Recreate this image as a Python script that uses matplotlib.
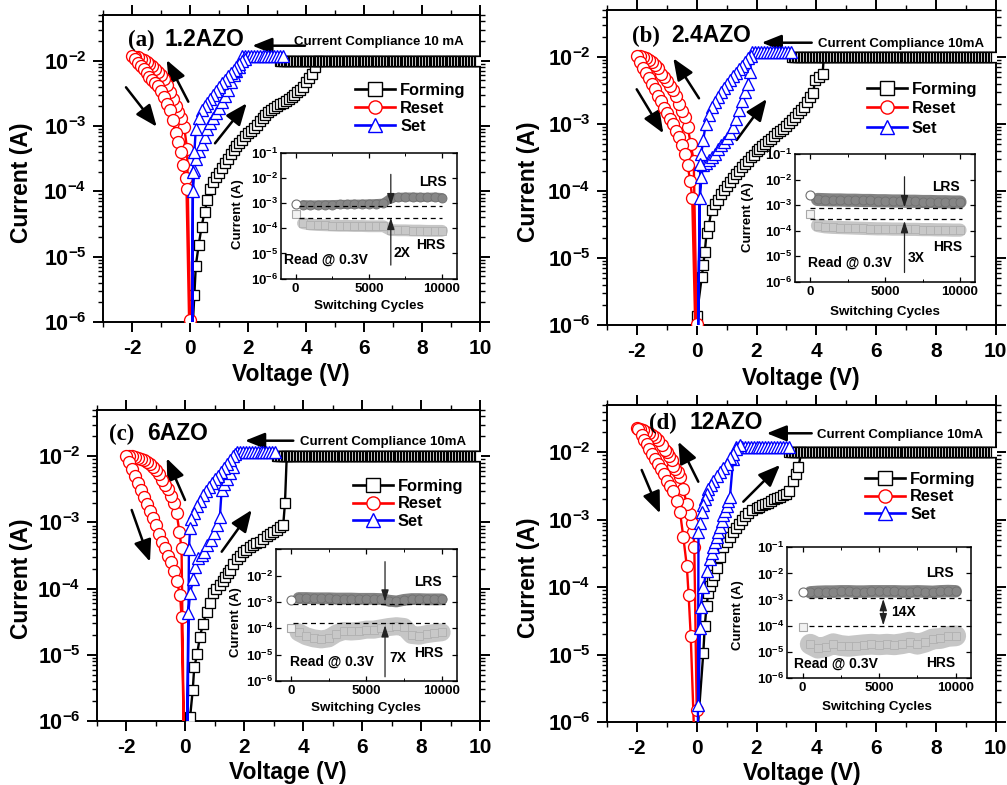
import numpy as np
import matplotlib
matplotlib.use('Agg')
import matplotlib.pyplot as plt
from matplotlib.lines import Line2D
from matplotlib.ticker import FixedLocator, MultipleLocator, LogLocator, NullFormatter

W, H = 1007, 785
plt.rcParams['font.family'] = ['Liberation Sans', 'DejaVu Sans']
plt.rcParams['font.weight'] = 'bold'
plt.rcParams['mathtext.fontset'] = 'custom'
plt.rcParams['mathtext.rm'] = 'Liberation Sans:bold'
plt.rcParams['mathtext.bf'] = 'Liberation Sans:bold'
plt.rcParams['mathtext.it'] = 'Liberation Sans:bold'
plt.rcParams['axes.unicode_minus'] = False

# ----------------------------------------------------------------- data
# currents are stored as log10(I / A)
SERIES_NAMES = ['Forming', 'Reset', 'Set']
PANEL_TAGS = ['(a)', '(b)', '(c)', '(d)']
PANEL_NAMES = ['1.2AZO', '2.4AZO', '6AZO', '12AZO']
COMPLIANCE_TEXT = ['Current Compliance 10 mA', 'Current Compliance 10mA',
                   'Current Compliance 10mA', 'Current Compliance 10mA']
RATIO_TEXT = ['2X', '3X', '7X', '14X']
FORM_COMPLIANCE_LOGI = -2.00
SET_COMPLIANCE_LOGI = -1.93
V_TICKS = [-2, 0, 2, 4, 6, 8, 10]
I_TICKS = [1e-6, 1e-5, 1e-4, 1e-3, 1e-2]
INSET_I_TICKS = [1e-6, 1e-5, 1e-4, 1e-3, 1e-2, 1e-1]
INSET_CYCLE_TICKS = [0, 5000, 10000]

# ---- (a) 1.2AZO
A_FORM_V = [0.10, 0.15, 0.20, 0.30, 0.40, 0.50, 0.60, 0.70, 0.80, 0.90, 1.00, 1.10, 1.20, 1.30, 1.40,
            1.50, 1.60, 1.70, 1.80, 1.90, 2.00, 2.10, 2.20, 2.30, 2.40, 2.50, 2.60, 2.70, 2.80, 2.90,
            3.00, 3.10, 3.20, 3.30, 3.40, 3.50, 3.60, 3.70, 3.80, 3.90, 4.00, 4.10, 4.20, 4.30, 4.40]
A_FORM_LOGI = [-6.00, -5.59, -5.14, -4.82, -4.54, -4.32, -4.13, -3.97, -3.85, -3.78, -3.72, -3.64, -3.57, -3.50, -3.43,
               -3.37, -3.31, -3.26, -3.21, -3.16, -3.11, -3.07, -3.03, -2.98, -2.93, -2.88, -2.83, -2.79, -2.76, -2.73,
               -2.70, -2.67, -2.64, -2.61, -2.58, -2.55, -2.52, -2.48, -2.45, -2.40, -2.32, -2.26, -2.20, -2.10, -2.00]
A_FORM_PLATEAU = (3.1, 10.0)
A_RESET_V = [0.00, -0.10, -0.20, -0.30, -0.40, -0.50, -0.60, -0.70, -0.80, -0.90, -1.00, -1.10, -1.20, -1.30,
             -1.40, -1.50, -1.60, -1.70, -1.80, -1.90, -2.00,
             -1.90, -1.80, -1.70, -1.60, -1.50, -1.40, -1.30, -1.20, -1.10, -1.00, -0.90, -0.80, -0.70, -0.60,
             -0.50, -0.40, -0.30, -0.25, -0.15, -0.12, -0.03]
A_RESET_LOGI = [-5.97, -3.35, -3.02, -2.87, -2.78, -2.69, -2.58, -2.48, -2.37, -2.28, -2.22, -2.17, -2.12, -2.08,
                -2.05, -2.02, -1.99, -1.97, -1.95, -1.94, -1.93,
                -1.98, -2.03, -2.08, -2.13, -2.19, -2.25, -2.30, -2.34, -2.39, -2.46, -2.55, -2.66, -2.76, -2.90,
                -3.10, -3.25, -3.40, -3.60, -3.80, -3.97, -6.00]
A_SET_UP_V = [0.08, 0.10, 0.15, 0.20, 0.30, 0.40, 0.50, 0.60, 0.70, 0.80, 0.90, 1.00, 1.10, 1.20, 1.30, 1.40,
              1.50, 1.60, 1.70]
A_SET_UP_LOGI = [-6.00, -4.00, -3.67, -3.50, -3.38, -3.28, -3.17, -3.05, -2.96, -2.88, -2.80, -2.72, -2.63, -2.54,
                 -2.45, -2.33, -2.22, -2.15, -2.09]
A_SET_PLATEAU = (1.8, 3.2)
A_SET_RET_V = [1.90, 1.80, 1.70, 1.60, 1.50, 1.40, 1.30, 1.20, 1.10, 1.00, 0.90, 0.80, 0.70, 0.60, 0.50, 0.40,
               0.30, 0.20, 0.15, 0.10, 0.08]
A_SET_RET_LOGI = [-1.97, -2.01, -2.05, -2.09, -2.14, -2.19, -2.24, -2.29, -2.34, -2.40, -2.46, -2.52, -2.58, -2.65,
                  -2.70, -2.75, -2.88, -3.05, -3.40, -3.70, -6.00]

# ---- (b) 2.4AZO
B_FORM_V = [0.00, 0.17, 0.22, 0.27, 0.33, 0.40, 0.50, 0.60, 0.70, 0.80, 0.90, 1.00, 1.10, 1.20, 1.30, 1.40,
            1.50, 1.60, 1.70, 1.80, 1.90, 2.00, 2.10, 2.20, 2.30, 2.40, 2.50, 2.60, 2.70, 2.80, 2.90, 3.00,
            3.10, 3.20, 3.30, 3.40, 3.50, 3.60, 3.70, 3.80, 3.90, 3.95, 4.10, 4.21, 4.25]
B_FORM_LOGI = [-5.87, -5.28, -5.10, -4.91, -4.63, -4.52, -4.28, -4.20, -4.13, -4.05, -3.99, -3.92, -3.86, -3.80,
               -3.75, -3.70, -3.64, -3.60, -3.55, -3.50, -3.46, -3.41, -3.37, -3.33, -3.30, -3.26, -3.22, -3.18,
               -3.14, -3.11, -3.07, -3.03, -2.99, -2.94, -2.89, -2.84, -2.79, -2.74, -2.67, -2.60, -2.54, -2.35,
               -2.30, -2.26, -2.00]
B_FORM_PLATEAU = (3.2, 10.0)
B_RESET_V = [0.00, -0.10, -0.20, -0.30, -0.40, -0.50, -0.60, -0.70, -0.80, -0.90, -1.00, -1.10, -1.20, -1.30,
             -1.40, -1.50, -1.60, -1.70, -1.80, -1.90, -2.00,
             -1.90, -1.80, -1.70, -1.60, -1.50, -1.40, -1.30, -1.20, -1.10, -1.00, -0.90, -0.80, -0.70, -0.60,
             -0.50, -0.40, -0.30, -0.22, -0.15, -0.05]
B_RESET_LOGI = [-5.98, -3.55, -3.30, -3.05, -2.90, -2.80, -2.70, -2.59, -2.50, -2.43, -2.36, -2.30, -2.25, -2.17,
                -2.12, -2.08, -2.05, -2.02, -2.00, -1.98, -1.98,
                -2.08, -2.17, -2.24, -2.31, -2.40, -2.48, -2.58, -2.66, -2.76, -2.84, -2.92, -3.00, -3.10, -3.20,
                -3.31, -3.45, -3.62, -3.85, -4.10, -6.00]
B_SET_UP_V = [0.05, 0.10, 0.16, 0.21, 0.30, 0.40, 0.50, 0.60, 0.70, 0.80, 0.90, 1.00, 1.10, 1.20, 1.30, 1.40,
              1.50, 1.60, 1.70, 1.78]
B_SET_UP_LOGI = [-6.00, -4.11, -3.79, -3.62, -3.58, -3.54, -3.50, -3.45, -3.38, -3.32, -3.27, -3.21, -3.14, -3.05,
                 -2.93, -2.79, -2.66, -2.52, -2.40, -2.22]
B_SET_PLATEAU = (1.85, 3.2)
B_SET_RET_V = [1.80, 1.70, 1.60, 1.50, 1.40, 1.30, 1.20, 1.10, 1.00, 0.90, 0.80, 0.70, 0.60, 0.50, 0.40, 0.30,
               0.22, 0.15, 0.12, 0.05]
B_SET_RET_LOGI = [-1.98, -2.02, -2.07, -2.13, -2.18, -2.24, -2.29, -2.34, -2.40, -2.46, -2.53, -2.60, -2.67, -2.75,
                  -2.87, -3.00, -3.24, -3.45, -3.60, -6.00]

# ---- (c) 6AZO
C_FORM_V = [0.16, 0.25, 0.30, 0.40, 0.49, 0.60, 0.72, 0.84, 0.95, 1.05, 1.17, 1.26, 1.35, 1.44, 1.52, 1.63,
            1.75, 1.85, 1.95, 2.05, 2.19, 2.30, 2.40, 2.53, 2.65, 2.76, 2.87, 2.98, 3.10, 3.20, 3.32, 3.38, 3.44]
C_FORM_LOGI = [-5.94, -5.53, -5.19, -4.99, -4.73, -4.53, -4.35, -4.22, -4.07, -4.00, -3.95, -3.88, -3.82, -3.77,
               -3.72, -3.62, -3.55, -3.50, -3.45, -3.41, -3.37, -3.34, -3.31, -3.29, -3.25, -3.21, -3.18, -3.14,
               -3.11, -3.07, -3.04, -2.71, -2.00]
C_FORM_PLATEAU = (3.1, 10.0)
C_RESET_V = [-0.06, -0.13, -0.20, -0.30, -0.40, -0.50, -0.60, -0.70, -0.80, -0.90, -1.00, -1.10, -1.20, -1.30,
             -1.40, -1.50, -1.60, -1.70, -1.80, -1.90, -2.00,
             -1.90, -1.80, -1.70, -1.60, -1.50, -1.40, -1.30, -1.20, -1.10, -1.00, -0.90, -0.80, -0.70, -0.60,
             -0.50, -0.40, -0.30, -0.18, -0.13, -0.06]
C_RESET_LOGI = [-6.00, -3.39, -3.15, -2.85, -2.70, -2.60, -2.50, -2.43, -2.36, -2.27, -2.21, -2.16, -2.12, -2.09,
                -2.06, -2.04, -2.02, -2.01, -2.00, -2.00, -2.00,
                -2.09, -2.19, -2.30, -2.41, -2.51, -2.61, -2.72, -2.82, -2.93, -3.04, -3.17, -3.29, -3.38, -3.50,
                -3.60, -3.73, -3.88, -4.09, -4.43, -6.00]
C_SET_UP_V = [0.06, 0.10, 0.16, 0.27, 0.33, 0.44, 0.55, 0.63, 0.75, 0.86, 0.97, 1.08, 1.17, 1.23, 1.30, 1.40,
              1.50, 1.63]
C_SET_UP_LOGI = [-6.00, -4.37, -4.07, -3.85, -3.67, -3.54, -3.49, -3.44, -3.34, -3.26, -3.16, -3.04, -2.92, -2.51,
                 -2.42, -2.34, -2.25, -2.16]
C_SET_PLATEAU = (1.75, 3.1)
C_SET_RET_V = [1.70, 1.60, 1.50, 1.40, 1.30, 1.20, 1.10, 1.00, 0.90, 0.80, 0.70, 0.60, 0.50, 0.40, 0.30, 0.20,
               0.16, 0.12, 0.08]
C_SET_RET_LOGI = [-1.96, -2.00, -2.06, -2.12, -2.17, -2.23, -2.29, -2.35, -2.41, -2.47, -2.53, -2.59, -2.67, -2.75,
                  -2.85, -2.94, -3.09, -3.40, -6.00]

# ---- (d) 12AZO
D_FORM_V = [0.05, 0.22, 0.27, 0.33, 0.39, 0.45, 0.50, 0.58, 0.67, 0.78, 0.89, 1.00, 1.10, 1.20, 1.30, 1.40,
            1.50, 1.60, 1.73, 1.85, 2.00, 2.10, 2.20, 2.30, 2.40, 2.50, 2.60, 2.70, 2.80, 2.90, 3.00, 3.10,
            3.23, 3.32, 3.40, 3.50]
D_FORM_LOGI = [-6.00, -4.98, -4.58, -4.28, -4.08, -3.98, -3.91, -3.82, -3.72, -3.56, -3.41, -3.33, -3.25, -3.18,
               -3.12, -3.06, -3.00, -2.95, -2.90, -2.86, -2.83, -2.81, -2.79, -2.77, -2.75, -2.73, -2.70, -2.68,
               -2.66, -2.64, -2.62, -2.58, -2.42, -2.32, -2.22, -2.00]
D_FORM_PLATEAU = (3.1, 10.0)
D_RESET_V = [0.00, -0.08, -0.11, -0.17, -0.22, -0.33, -0.45, -0.56, -0.64, -0.72, -0.78, -0.84, -0.92, -1.00,
             -1.06, -1.15, -1.28, -1.40, -1.50, -1.60, -1.70, -1.80, -1.90, -2.00,
             -1.95, -1.84, -1.75, -1.67, -1.58, -1.50, -1.40, -1.30, -1.20, -1.10, -1.00, -0.90, -0.78, -0.67,
             -0.56, -0.45, -0.33, -0.27, -0.20, -0.10]
D_RESET_LOGI = [-5.82, -3.40, -3.19, -3.05, -2.92, -2.77, -2.55, -2.37, -2.30, -2.25, -2.20, -2.12, -2.06, -2.00,
                -1.97, -1.90, -1.82, -1.78, -1.75, -1.72, -1.70, -1.67, -1.65, -1.64,
                -1.66, -1.75, -1.82, -1.88, -1.95, -2.02, -2.10, -2.18, -2.25, -2.33, -2.42, -2.50, -2.58, -2.72,
                -2.88, -3.25, -3.69, -4.12, -4.72, -6.00]
D_SET_UP_V = [0.06, 0.11, 0.13, 0.22, 0.33, 0.44, 0.50, 0.56, 0.61, 0.67, 0.72, 0.78, 0.84, 0.89, 0.95, 1.00,
              1.06, 1.11, 1.22]
D_SET_UP_LOGI = [-5.75, -4.60, -4.30, -4.00, -3.76, -3.58, -3.50, -3.41, -3.33, -3.26, -3.18, -3.11, -3.02, -2.93,
                 -2.87, -2.80, -2.73, -2.67, -2.10]
D_SET_PLATEAU = (1.3, 3.1)
D_SET_RET_V = [1.45, 1.33, 1.22, 1.11, 1.00, 0.89, 0.78, 0.67, 0.56, 0.47, 0.39, 0.33, 0.28, 0.22, 0.17, 0.11,
               0.06, 0.04]
D_SET_RET_LOGI = [-1.89, -1.95, -2.02, -2.09, -2.17, -2.23, -2.30, -2.36, -2.43, -2.49, -2.55, -2.62, -2.69, -2.78,
                  -2.89, -3.05, -3.19, -6.00]

# ---- insets: endurance at 0.3 V read
INSET_CYCLES = [0, 500, 1000, 1500, 2000, 2500, 3000, 3500, 4000, 4500, 5000, 5500, 6000, 6500, 7000, 7500,
                8000, 8500, 9000, 9500, 10000]
A_LRS_LOGI = [-3.04, -3.06, -3.07, -3.07, -3.06, -3.06, -3.05, -3.05, -3.04, -3.04, -3.03, -3.02, -3.00, -2.80,
              -2.77, -2.76, -2.76, -2.77, -2.77, -2.76, -2.78]
A_HRS_LOGI = [-3.43, -3.80, -3.85, -3.87, -3.88, -3.89, -3.90, -3.90, -3.91, -3.91, -3.92, -3.92, -3.92, -4.07,
              -4.08, -4.08, -4.09, -4.09, -4.10, -4.10, -4.10]
B_LRS_LOGI = [-2.62, -2.78, -2.79, -2.80, -2.80, -2.81, -2.81, -2.82, -2.82, -2.83, -2.83, -2.84, -2.84, -2.85,
              -2.85, -2.86, -2.86, -2.87, -2.87, -2.88, -2.88]
B_HRS_LOGI = [-3.33, -3.80, -3.85, -3.87, -3.88, -3.89, -3.90, -3.91, -3.92, -3.93, -3.93, -3.94, -3.94, -3.95,
              -3.95, -3.96, -3.96, -3.97, -3.97, -3.98, -3.98]
C_LRS_LOGI = [-2.92, -2.85, -2.85, -2.86, -2.86, -2.86, -2.87, -2.87, -2.87, -2.88, -2.88, -2.88, -2.89, -2.95,
              -2.98, -2.92, -2.89, -2.89, -2.90, -2.90, -2.90]
C_HRS_LOGI = [-4.00, -4.15, -4.30, -4.38, -4.42, -4.38, -4.20, -4.10, -4.12, -4.10, -4.05, -4.05, -4.00, -3.95,
              -3.92, -3.95, -4.25, -4.28, -4.22, -4.18, -4.15]
D_LRS_LOGI = [-2.72, -2.72, -2.70, -2.69, -2.69, -2.68, -2.68, -2.69, -2.69, -2.68, -2.68, -2.68, -2.68, -2.69,
              -2.69, -2.68, -2.69, -2.70, -2.68, -2.67, -2.68]
D_HRS_LOGI = [-4.05, -4.70, -4.85, -4.80, -4.68, -4.75, -4.78, -4.75, -4.72, -4.70, -4.72, -4.70, -4.72, -4.68,
              -4.62, -4.70, -4.62, -4.50, -4.48, -4.40, -4.38]
# dashed reference levels (LRS, HRS)
A_DASH_LOGI = [-3.12, -3.59]
B_DASH_LOGI = [-3.13, -3.55]
C_DASH_LOGI = [-3.09, -3.78]
D_DASH_LOGI = [-2.95, -4.00]

# ----------------------------------------------------------------- layout (pixels, top-left origin)
LAYOUT = [
    dict(box=(103, 15, 480, 322), inset=(281, 152.7, 456.7, 278.7), tag=(127.7, 45.7), name_x=164.3,
         comp=(294.3, 44.7), comp_arrow=((305, 45.7), (252.3, 45.7)),
         arrows=[((188.3, 101.7), (166.7, 60)), ((126, 87.3), (156.7, 126.7)), ((215, 143.3), (246.7, 103.3))],
         legend=(355, 83), lspace=0.18, ylabel=(21.7, 183), xlabel=(290.8, 375),
         in_ylabel=(238.3, 214), in_xlabel=(368.8, 306),
         in_arrow=dict(x=6500, down=(-1.86, -3.09), up=(-5.46, -3.58)),
         in_text=dict(lrs=(9400, -2.15), hrs=(9200, -4.66), ratio=(7270, -4.99), read=(2100, -5.26)),
         in_dash=(250, 10000), ribbon=(6.5, 8.5), top_label=True),
    dict(box=(607, 10, 995.7, 325), inset=(795, 154, 975, 281.7), tag=(631.7, 41.7), name_x=671.7,
         comp=(817.7, 47.4), comp_arrow=((811.7, 42.7), (761.7, 42.7)),
         arrows=[((699, 98.3), (673.3, 58.3)), ((636.7, 89.3), (663.3, 133.3)), ((736.7, 140), (766.7, 99))],
         legend=(866.7, 81.7), lspace=0.27, ylabel=(528.3, 182), xlabel=(800.8, 378.3),
         in_ylabel=(748.3, 216.7), in_xlabel=(885, 311.7),
         in_arrow=dict(x=6300, down=(-1.89, -3.09), up=(-5.64, -3.62)),
         in_text=dict(lrs=(9050, -2.28), hrs=(9160, -4.64), ratio=(7100, -5.09), read=(2650, -5.25)),
         in_dash=(0, 10100), ribbon=(9.5, 9.5), top_label=True),
    dict(box=(97, 410, 480, 721), inset=(276, 549.3, 456.7, 681), tag=(109.3, 440), name_x=146.7,
         comp=(300, 445.4), comp_arrow=((293.3, 440.7), (245, 440.7)),
         arrows=[((185, 500), (166.7, 458.3)), ((131.7, 510), (150, 561.7)), ((221.7, 551.7), (251.7, 510))],
         legend=(352.7, 478.8), lspace=0.16, ylabel=(21.7, 578.3), xlabel=(288.3, 773),
         in_ylabel=(236, 622.5), in_xlabel=(366.2, 708.3),
         in_arrow=dict(x=6240, down=(-1.47, -2.99), up=(-5.84, -3.88)),
         in_text=dict(lrs=(9120, -2.23), hrs=(9120, -4.95), ratio=(7120, -5.14), read=(2700, -5.27)),
         in_dash=(150, 10250), ribbon=(8.5, 13.0), top_label=False),
    dict(box=(607, 405, 995.7, 722), inset=(787.3, 547.3, 971, 678.3), tag=(649, 429.3), name_x=689.3,
         comp=(817.3, 438), comp_arrow=((811.7, 433.3), (766.7, 433.3)),
         arrows=[((698.3, 481.7), (678.3, 441.7)), ((641.7, 470), (660, 513.3)), ((743.3, 501.7), (780, 465))],
         legend=(865, 471.8), lspace=0.16, ylabel=(528.3, 577.5), xlabel=(801.7, 773.3),
         in_ylabel=(738.3, 615), in_xlabel=(877, 706.7),
         in_arrow=dict(x=5270, double=(-2.97, -3.98)),
         in_text=dict(lrs=(9000, -1.99), hrs=(9000, -5.43), ratio=(6600, -3.46), read=(2200, -5.43)),
         in_dash=(440, 10330), ribbon=(9.0, 15.0), top_label=True),
]

PANEL_DATA = [
    (A_FORM_V, A_FORM_LOGI, A_FORM_PLATEAU, A_RESET_V, A_RESET_LOGI, A_SET_UP_V, A_SET_UP_LOGI, A_SET_PLATEAU,
     A_SET_RET_V, A_SET_RET_LOGI, A_LRS_LOGI, A_HRS_LOGI, A_DASH_LOGI),
    (B_FORM_V, B_FORM_LOGI, B_FORM_PLATEAU, B_RESET_V, B_RESET_LOGI, B_SET_UP_V, B_SET_UP_LOGI, B_SET_PLATEAU,
     B_SET_RET_V, B_SET_RET_LOGI, B_LRS_LOGI, B_HRS_LOGI, B_DASH_LOGI),
    (C_FORM_V, C_FORM_LOGI, C_FORM_PLATEAU, C_RESET_V, C_RESET_LOGI, C_SET_UP_V, C_SET_UP_LOGI, C_SET_PLATEAU,
     C_SET_RET_V, C_SET_RET_LOGI, C_LRS_LOGI, C_HRS_LOGI, C_DASH_LOGI),
    (D_FORM_V, D_FORM_LOGI, D_FORM_PLATEAU, D_RESET_V, D_RESET_LOGI, D_SET_UP_V, D_SET_UP_LOGI, D_SET_PLATEAU,
     D_SET_RET_V, D_SET_RET_LOGI, D_LRS_LOGI, D_HRS_LOGI, D_DASH_LOGI),
]

RED, BLUE = '#ff0000', '#0000ff'
STYLE = {
    'Forming': dict(color='k', marker='s', ms=7.2),
    'Reset': dict(color=RED, marker='o', ms=8.6),
    'Set': dict(color=BLUE, marker='^', ms=9.0),
}

fig = plt.figure(figsize=(W / 100, H / 100), dpi=100)


def rect(b):
    x0, y0, x1, y1 = b
    return [x0 / W, 1 - y1 / H, (x1 - x0) / W, (y1 - y0) / H]


def fp(x, y):
    return (x / W, 1 - y / H)


def fpix(x, y):
    return (x, H - y)


def sci(e):
    return r'$\mathbf{10^{%d}}$' % e


def curve(ax, v, logi, name, z):
    st = STYLE[name]
    logi = np.asarray(logi, float)
    mask = list(logi > -5.99)
    ax.plot(v, 10 ** logi, '-', color=st['color'], lw=1.7, marker=st['marker'], ms=st['ms'],
            mfc='white', mec=st['color'], mew=0.95, markevery=mask, zorder=z, clip_on=True)


def plateau(ax, rng, level, step, name, z):
    st = STYLE[name]
    pv = np.arange(rng[0], rng[1] + 1e-9, step)
    ax.plot(pv, np.full(pv.shape, 10 ** level), '-', color=st['color'], lw=1.6, marker=st['marker'],
            ms=st['ms'], mfc='white', mec=st['color'], mew=0.9, zorder=z)


for k, (lay, data) in enumerate(zip(LAYOUT, PANEL_DATA)):
    (fv, fl, fpl, rv, rl, suv, sul, spl, srv, srl, lrs, hrs, dash) = data
    ax = fig.add_axes(rect(lay['box']))
    ax.set_yscale('log')
    ax.set_xlim(-3, 10)
    ax.set_ylim(1e-6, 10 ** -1.3)

    # forming
    curve(ax, fv, fl, 'Forming', 3)
    plateau(ax, fpl, FORM_COMPLIANCE_LOGI, 0.05, 'Forming', 3)
    # reset
    curve(ax, rv, rl, 'Reset', 4)
    # set : up sweep + compliance + return
    pv = list(np.round(np.arange(spl[0], spl[1] + 1e-9, 0.1), 3))
    sv = list(suv) + pv + list(srv)
    sl = list(sul) + [SET_COMPLIANCE_LOGI] * len(pv) + list(srl)
    curve(ax, sv, sl, 'Set', 5)

    # axes style
    for s in ax.spines.values():
        s.set_linewidth(1.4)
    ax.xaxis.set_major_locator(FixedLocator(V_TICKS))
    ax.set_xticklabels([str(t) for t in V_TICKS])
    ax.xaxis.set_minor_locator(MultipleLocator(1))
    ax.yaxis.set_major_locator(FixedLocator(I_TICKS))
    ax.set_yticklabels([sci(int(round(np.log10(t)))) for t in I_TICKS])
    ax.yaxis.set_minor_locator(LogLocator(base=10, subs=np.arange(2, 10)))
    ax.yaxis.set_minor_formatter(NullFormatter())
    ax.tick_params(which='major', direction='out', length=7, width=1.4, labelsize=15, top=True, right=True)
    ax.tick_params(which='minor', direction='out', length=3.5, width=1.0, top=True, right=True)
    ax.tick_params(axis='x', which='major', pad=5)
    ax.tick_params(axis='y', which='major', pad=5, labelsize=15.5)

    # labels
    fig.text(*fp(*lay['ylabel']), 'Current (A)', rotation=90, ha='center', va='center', fontsize=16.5,
             fontweight='bold')
    fig.text(*fp(*lay['xlabel']), 'Voltage (V)', ha='center', va='center', fontsize=16.5, fontweight='bold')
    tx, ty = lay['tag']
    fig.text(*fp(tx, ty), PANEL_TAGS[k], ha='left', va='baseline', fontsize=16.5, fontweight='bold',
             family=['Liberation Serif', 'DejaVu Serif'])
    fig.text(*fp(lay['name_x'], ty), PANEL_NAMES[k], ha='left', va='baseline', fontsize=16.5,
             fontweight='bold')
    fig.text(*fp(*lay['comp']), COMPLIANCE_TEXT[k], ha='left', va='baseline', fontsize=9.5,
             fontweight='bold')
    (t0, h0) = lay['comp_arrow']
    ax.annotate('', xy=fpix(*h0), xytext=fpix(*t0), xycoords='figure pixels', textcoords='figure pixels',
                arrowprops=dict(arrowstyle='-|>,head_length=1.0,head_width=0.4', lw=1.8, color='k',
                                mutation_scale=12, shrinkA=0, shrinkB=0))
    for (t, h) in lay['arrows']:
        ax.annotate('', xy=fpix(*h), xytext=fpix(*t), xycoords='figure pixels', textcoords='figure pixels',
                    arrowprops=dict(arrowstyle='-|>,head_length=1.1,head_width=0.45', lw=1.8, color='k',
                                    mutation_scale=12, shrinkA=0, shrinkB=0))

    # legend
    handles = [Line2D([], [], color=STYLE[n]['color'], marker=STYLE[n]['marker'], ms=9.5, mfc='white',
                      mec=STYLE[n]['color'], mew=1.0, lw=1.9) for n in SERIES_NAMES]
    lx, ly = lay['legend']
    ax.legend(handles, SERIES_NAMES, loc='upper left', bbox_to_anchor=fp(lx, ly),
              bbox_transform=fig.transFigure, frameon=False, borderpad=0, borderaxespad=0,
              handlelength=2.45, handletextpad=0.3, labelspacing=lay['lspace'],
              prop=dict(weight='bold', size=11.8))

    # ---------------- inset
    ia = fig.add_axes(rect(lay['inset']))
    ia.set_yscale('log')
    ia.set_xlim(-1000, 11000)
    ia.set_ylim(1e-6, 1e-1)
    lw_l, lw_h = lay['ribbon']
    cyc = np.asarray(INSET_CYCLES, float)
    lrs_i = 10 ** np.asarray(lrs, float)
    hrs_i = 10 ** np.asarray(hrs, float)
    ia.plot(cyc[1:], hrs_i[1:], '-', color='#c6c6c6', lw=lw_h, solid_capstyle='round', zorder=2)
    ia.plot(cyc[1:], hrs_i[1:], 's', ms=6, mfc='#c8c8c8', mec='#b0b0b0', mew=0.6, zorder=2)
    ia.plot(cyc[:1], hrs_i[:1], 's', ms=6, mfc='#f2f2f2', mec='#a8a8a8', mew=0.8, zorder=3)
    ia.plot(cyc[1:], lrs_i[1:], '-', color='#838383', lw=lw_l, solid_capstyle='round', zorder=2)
    ia.plot(cyc[1:], lrs_i[1:], 'o', ms=6.5, mfc='#868686', mec='#707070', mew=0.6, zorder=2)
    ia.plot(cyc[:1], lrs_i[:1], 'o', ms=6.5, mfc='white', mec='#707070', mew=0.8, zorder=3)
    d0, d1 = lay['in_dash']
    for lv in dash:
        ia.plot([d0, d1], [10 ** lv, 10 ** lv], ls=(0, (4, 3)), color='k', lw=0.9, zorder=4)
    arr = lay['in_arrow']
    aprops = dict(arrowstyle='-|>,head_length=0.7,head_width=0.22', lw=0.9, color='#222222',
                  mutation_scale=10, shrinkA=0, shrinkB=0)
    if 'double' in arr:
        a0, a1 = arr['double']
        ia.annotate('', xy=(arr['x'], 10 ** a1), xytext=(arr['x'], 10 ** a0),
                    arrowprops=dict(arrowstyle='<|-|>,head_length=0.7,head_width=0.22', lw=0.9,
                                    color='#222222', mutation_scale=10, shrinkA=0, shrinkB=0), zorder=5)
    else:
        for key in ('down', 'up'):
            a0, a1 = arr[key]
            ia.annotate('', xy=(arr['x'], 10 ** a1), xytext=(arr['x'], 10 ** a0), arrowprops=aprops,
                        zorder=5)
    it = lay['in_text']
    for key, txt in (('lrs', 'LRS'), ('hrs', 'HRS'), ('ratio', RATIO_TEXT[k]), ('read', 'Read @ 0.3V')):
        ia.text(it[key][0], 10 ** it[key][1], txt, ha='center', va='center', fontsize=10,
                fontweight='bold')

    for s in ia.spines.values():
        s.set_linewidth(1.1)
    ia.xaxis.set_major_locator(FixedLocator(INSET_CYCLE_TICKS))
    ia.set_xticklabels([str(t) for t in INSET_CYCLE_TICKS])
    ia.xaxis.set_minor_locator(MultipleLocator(2500))
    ia.yaxis.set_major_locator(FixedLocator(INSET_I_TICKS))
    ylabs = [sci(int(round(np.log10(t)))) for t in INSET_I_TICKS]
    if not lay['top_label']:
        ylabs[-1] = ''
    ia.set_yticklabels(ylabs)
    ia.yaxis.set_minor_locator(LogLocator(base=10, subs=np.arange(2, 10)))
    ia.yaxis.set_minor_formatter(NullFormatter())
    ia.tick_params(which='major', direction='in', length=3.5, width=0.9, right=True, top=True)
    ia.tick_params(which='minor', direction='in', length=2, width=0.7, right=True, top=True)
    ia.tick_params(axis='x', which='major', labelsize=9.5, pad=3)
    ia.tick_params(axis='y', which='major', labelsize=9.5, pad=2)
    fig.text(*fp(*lay['in_ylabel']), 'Current (A)', rotation=90, ha='center', va='center', fontsize=9.5,
             fontweight='bold')
    fig.text(*fp(*lay['in_xlabel']), 'Switching Cycles', ha='center', va='center', fontsize=9.6,
             fontweight='bold')

fig.savefig('out.png', dpi=100)
